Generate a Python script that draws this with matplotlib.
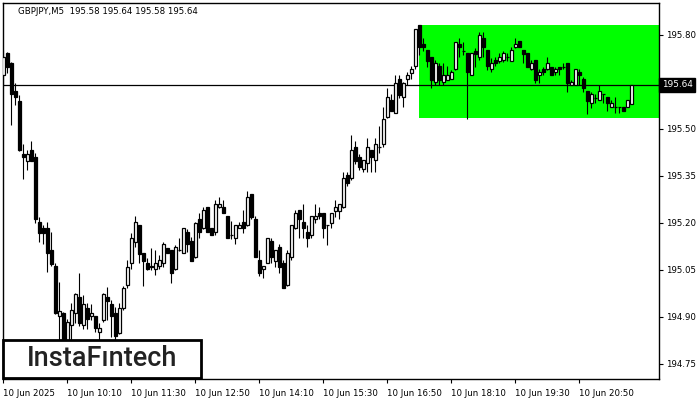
import numpy as np
import matplotlib
matplotlib.use('Agg')
import matplotlib.pyplot as plt
from matplotlib.patches import Rectangle

# --- Data: GBPJPY M5 candles, 10 Jun 2025 from 08:50 ---
opens = [
    195.672, 195.742, 195.710, 195.620, 195.589, 195.419, 195.397, 195.432, 195.410, 195.202,
    195.183, 195.183, 195.113, 195.062, 194.902, 194.912, 194.810, 194.874, 194.912, 194.963,
    194.874, 194.928, 194.902, 194.902, 194.851, 194.890, 194.963, 194.941, 194.912, 194.848,
    194.928, 195.001, 195.072, 195.139, 195.193, 195.103, 195.072, 195.062, 195.052, 195.062,
    195.072, 195.119, 195.113, 195.052, 195.113, 195.103, 195.170, 195.142, 195.091, 195.212,
    195.183, 195.250, 195.183, 195.170, 195.250, 195.250, 195.222, 195.161, 195.151, 195.183,
    195.202, 195.193, 195.292, 195.212, 195.081, 195.052, 195.072, 195.142, 195.078, 195.123,
    195.072, 195.001, 195.091, 195.183, 195.241, 195.202, 195.170, 195.161, 195.212, 195.231,
    195.231, 195.193, 195.199, 195.238, 195.238, 195.250, 195.352, 195.343, 195.442, 195.410,
    195.372, 195.391, 195.432, 195.400, 195.442, 195.451, 195.538, 195.592, 195.550, 195.659,
    195.601, 195.659, 195.678, 195.700, 195.831, 195.771, 195.751, 195.729, 195.649, 195.700,
    195.649, 195.656, 195.659, 195.691, 195.771, 195.748, 195.742, 195.672, 195.748, 195.729,
    195.790, 195.751, 195.691, 195.719, 195.716, 195.719, 195.729, 195.716, 195.761, 195.780,
    195.751, 195.742, 195.691, 195.719, 195.672, 195.691, 195.691, 195.697, 195.681, 195.697,
    195.697, 195.710, 195.640, 195.640, 195.681, 195.659, 195.620, 195.582, 195.598, 195.592,
    195.611, 195.601, 195.569, 195.569, 195.569, 195.569, 195.569, 195.580,
]
highs = [
    195.751, 195.745, 195.713, 195.646, 195.608, 195.451, 195.432, 195.461, 195.423, 195.218,
    195.193, 195.202, 195.170, 195.072, 195.011, 194.915, 194.893, 194.944, 194.976, 195.040,
    194.969, 194.944, 194.941, 194.902, 194.880, 194.976, 194.995, 194.953, 194.931, 194.944,
    194.998, 195.081, 195.167, 195.222, 195.193, 195.103, 195.087, 195.119, 195.113, 195.097,
    195.139, 195.119, 195.113, 195.129, 195.151, 195.183, 195.180, 195.154, 195.202, 195.231,
    195.250, 195.250, 195.183, 195.273, 195.282, 195.273, 195.222, 195.206, 195.193, 195.202,
    195.241, 195.301, 195.292, 195.222, 195.113, 195.062, 195.151, 195.151, 195.113, 195.132,
    195.081, 195.113, 195.193, 195.241, 195.241, 195.260, 195.193, 195.222, 195.260, 195.250,
    195.231, 195.193, 195.231, 195.273, 195.260, 195.362, 195.362, 195.480, 195.461, 195.419,
    195.400, 195.470, 195.432, 195.470, 195.509, 195.569, 195.630, 195.611, 195.672, 195.672,
    195.649, 195.681, 195.700, 195.818, 195.831, 195.790, 195.751, 195.729, 195.719, 195.710,
    195.710, 195.700, 195.688, 195.777, 195.790, 195.777, 195.742, 195.742, 195.758, 195.809,
    195.809, 195.751, 195.726, 195.729, 195.742, 195.748, 195.742, 195.761, 195.790, 195.780,
    195.751, 195.742, 195.719, 195.719, 195.691, 195.697, 195.729, 195.697, 195.697, 195.697,
    195.710, 195.710, 195.656, 195.691, 195.691, 195.665, 195.620, 195.617, 195.611, 195.640,
    195.611, 195.601, 195.592, 195.601, 195.569, 195.569, 195.592, 195.640,
]
lows = [
    195.640, 195.678, 195.512, 195.576, 195.429, 195.340, 195.368, 195.397, 195.199, 195.139,
    195.132, 195.043, 195.062, 194.909, 194.810, 194.787, 194.794, 194.819, 194.880, 194.870,
    194.861, 194.861, 194.890, 194.851, 194.826, 194.883, 194.890, 194.835, 194.826, 194.845,
    194.921, 194.992, 195.052, 195.123, 195.072, 194.998, 195.049, 195.049, 195.033, 195.052,
    195.059, 195.103, 195.008, 195.049, 195.110, 195.103, 195.107, 195.078, 195.087, 195.151,
    195.180, 195.170, 195.161, 195.161, 195.247, 195.231, 195.151, 195.148, 195.132, 195.183,
    195.167, 195.190, 195.212, 195.091, 195.030, 195.024, 195.072, 195.072, 195.059, 195.040,
    194.992, 194.998, 195.081, 195.180, 195.151, 195.151, 195.123, 195.151, 195.199, 195.212,
    195.151, 195.129, 195.183, 195.218, 195.212, 195.247, 195.317, 195.336, 195.388, 195.368,
    195.362, 195.362, 195.362, 195.362, 195.423, 195.442, 195.534, 195.557, 195.550, 195.598,
    195.569, 195.640, 195.659, 195.691, 195.735, 195.748, 195.697, 195.630, 195.640, 195.640,
    195.640, 195.656, 195.659, 195.688, 195.729, 195.735, 195.531, 195.672, 195.697, 195.719,
    195.729, 195.688, 195.681, 195.700, 195.710, 195.713, 195.716, 195.716, 195.758, 195.761,
    195.710, 195.697, 195.688, 195.646, 195.646, 195.672, 195.688, 195.672, 195.672, 195.672,
    195.691, 195.617, 195.640, 195.640, 195.640, 195.617, 195.547, 195.566, 195.582, 195.592,
    195.582, 195.557, 195.569, 195.550, 195.550, 195.557, 195.569, 195.580,
]
closes = [
    195.729, 195.697, 195.611, 195.601, 195.432, 195.410, 195.419, 195.397, 195.212, 195.167,
    195.167, 195.103, 195.068, 194.912, 194.918, 194.810, 194.883, 194.921, 194.973, 194.880,
    194.941, 194.893, 194.912, 194.864, 194.864, 194.973, 194.950, 194.902, 194.839, 194.928,
    194.992, 195.059, 195.151, 195.202, 195.100, 195.078, 195.052, 195.059, 195.072, 195.081,
    195.132, 195.103, 195.040, 195.123, 195.113, 195.183, 195.132, 195.078, 195.199, 195.170,
    195.241, 195.170, 195.161, 195.260, 195.260, 195.231, 195.151, 195.160, 195.193, 195.193,
    195.183, 195.282, 195.218, 195.091, 195.040, 195.062, 195.151, 195.091, 195.113, 195.059,
    194.992, 195.103, 195.193, 195.231, 195.212, 195.183, 195.151, 195.222, 195.222, 195.222,
    195.183, 195.193, 195.231, 195.250, 195.260, 195.343, 195.327, 195.432, 195.397, 195.378,
    195.400, 195.442, 195.410, 195.451, 195.442, 195.531, 195.601, 195.557, 195.646, 195.608,
    195.646, 195.672, 195.691, 195.818, 195.761, 195.761, 195.716, 195.656, 195.710, 195.656,
    195.672, 195.672, 195.681, 195.777, 195.761, 195.748, 195.681, 195.742, 195.739, 195.799,
    195.761, 195.700, 195.710, 195.710, 195.729, 195.742, 195.729, 195.751, 195.771, 195.761,
    195.739, 195.697, 195.710, 195.656, 195.681, 195.681, 195.710, 195.672, 195.691, 195.691,
    195.697, 195.646, 195.649, 195.691, 195.672, 195.630, 195.589, 195.611, 195.598, 195.620,
    195.611, 195.582, 195.582, 195.569, 195.569, 195.557, 195.592, 195.640,
]

tick_bars = [0, 16, 32, 48, 64, 80, 96, 112, 128, 144]
tick_labels = ['10 Jun 2025', '10 Jun 10:10', '10 Jun 11:30', '10 Jun 12:50', '10 Jun 14:10',
               '10 Jun 15:30', '10 Jun 16:50', '10 Jun 18:10', '10 Jun 19:30', '10 Jun 20:50']
price_ticks = [194.75, 194.90, 195.05, 195.20, 195.35, 195.50, 195.65, 195.80]

zone_start = 103.9       # bar index where the green zone begins
zone_top, zone_bottom = 195.831, 195.534
last_price = 195.64
title = 'GBPJPY,M5  195.58 195.64 195.58 195.64'

# --- Figure ---
fig = plt.figure(figsize=(7, 4), dpi=100)
fig.patch.set_facecolor('white')
ax = fig.add_axes([3 / 700, 21 / 400, 656 / 700, 376 / 400])
ax.set_xlim(-0.1, 163.9)
ax.set_ylim(194.701, 195.901)

o = np.array(opens)
h = np.array(highs)
l = np.array(lows)
c = np.array(closes)
x = np.arange(len(o))

# green zone
ax.add_patch(Rectangle((zone_start, zone_bottom), 200, zone_top - zone_bottom,
                       facecolor='#00ff00', edgecolor='none', zorder=1))

# last price line
ax.axhline(last_price, color='black', lw=0.9, zorder=2)

# wicks and bodies
ax.vlines(x, l, h, color='black', lw=0.8, zorder=3)
up = c >= o
body_lo = np.minimum(o, c)
body_h = np.abs(c - o)
ax.bar(x[up], body_h[up], bottom=body_lo[up], width=0.6, color='white',
       edgecolor='black', linewidth=0.9, zorder=4)
ax.bar(x[~up], body_h[~up], bottom=body_lo[~up], width=0.6, color='black',
       edgecolor='black', linewidth=0.9, zorder=4)

# axes styling
for side in ['left', 'bottom', 'right', 'top']:
    ax.spines[side].set_color('black')
    ax.spines[side].set_linewidth(1)
ax.yaxis.tick_right()
ax.set_yticks(price_ticks)
# 195.65 sits behind the current-price box, as in the terminal
ax.set_yticklabels(['' if abs(p - 195.65) < 1e-6 else f'{p:.2f}' for p in price_ticks])
ax.set_xticks(tick_bars)
ax.set_xticklabels(tick_labels, ha='left')
ax.tick_params(axis='both', direction='out', length=3, width=0.8, colors='black',
               labelsize=6.2, pad=2)
ax.tick_params(axis='x', pad=4)

# title text
fig.text(18 / 700, 1 - 11 / 400, title, fontsize=6.2, va='center', ha='left', color='black')

# current price box on the axis
ax.text(1.004, last_price, '195.64', transform=ax.get_yaxis_transform(), fontsize=6.4,
        color='white', va='center', ha='left', zorder=10, clip_on=False,
        bbox=dict(boxstyle='square,pad=0.3', fc='black', ec='black'))

# logo box
fig.patches.append(Rectangle((3 / 700, 22 / 400), 198 / 700, 38 / 400, transform=fig.transFigure,
                             facecolor='white', edgecolor='black', lw=2, zorder=20))
fig.text(102 / 700, 1 - 359 / 400, 'InstaFıntech', fontsize=19.5, ha='center', va='center',
         color='#222222', family='Roboto', weight='medium', zorder=21)

fig.savefig('out.png', dpi=100)
